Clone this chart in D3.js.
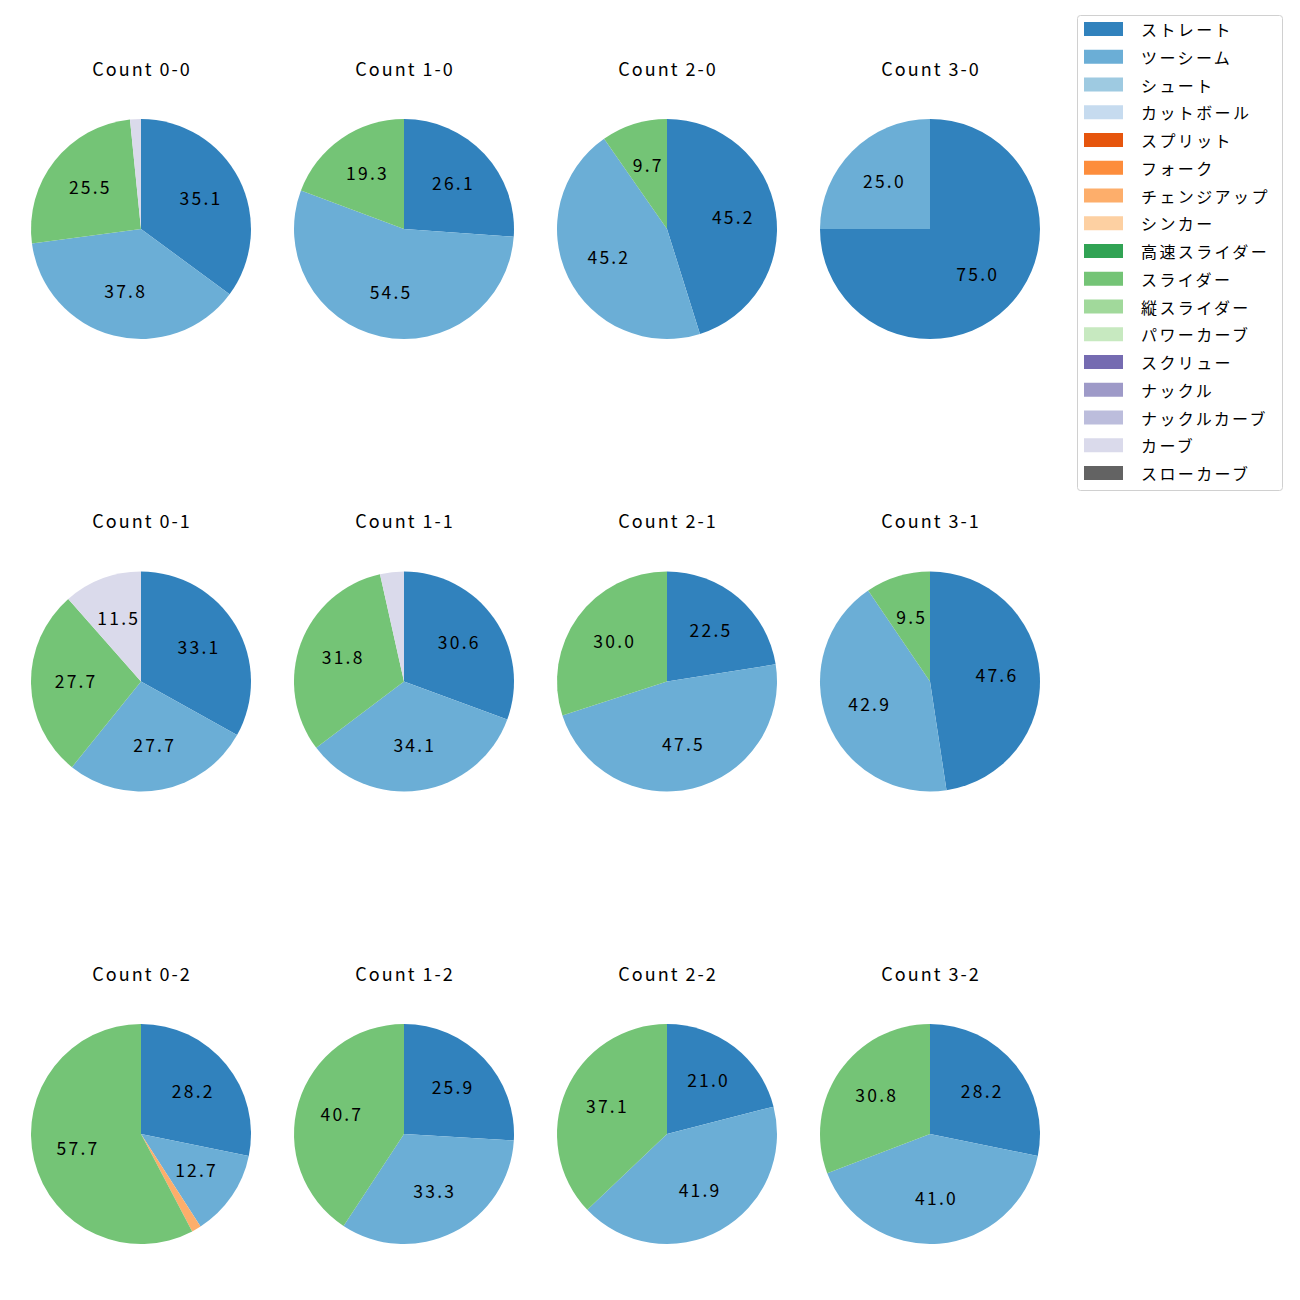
<!DOCTYPE html>
<html><head><meta charset="utf-8">
<script src="https://cdn.jsdelivr.net/npm/d3@7"></script>
<style>body{margin:0;background:#fff;} svg{display:block;font-family:"Noto Sans CJK JP","Noto Sans",sans-serif;}</style>
</head><body>
<svg id="c" width="1300" height="1300"></svg>
<script>
const counts = ["0-0","1-0","2-0","3-0","0-1","1-1","2-1","3-1","0-2","1-2","2-2","3-2"];
const pitchTypes = ["ストレート","ツーシーム","シュート","カットボール","スプリット","フォーク","チェンジアップ","シンカー","高速スライダー","スライダー","縦スライダー","パワーカーブ","スクリュー","ナックル","ナックルカーブ","カーブ","スローカーブ"];
const colors = ["#3182bd","#6baed6","#9ecae1","#c6dbef","#e6550d","#fd8d3c","#fdae6b","#fdd0a2","#31a354","#74c476","#a1d99b","#c7e9c0","#756bb1","#9e9ac8","#bcbddc","#dadaeb","#636363"];
// values per count (same order as counts)
const straight  = [35.1,26.1,45.2,75.0,33.1,30.6,22.5,47.6,28.2,25.9,21.0,28.2];
const twoSeam   = [37.8,54.5,45.2,25.0,27.7,34.1,47.5,42.9,12.7,33.3,41.9,41.0];
const changeup  = [0,0,0,0,0,0,0,0,1.4,0,0,0];
const slider    = [25.5,19.3,9.7,0,27.7,31.8,30.0,9.5,57.7,40.7,37.1,30.8];
const curve     = [1.6,0,0,0,11.5,3.5,0,0,0,0,0,0];
const series = {"ストレート":straight,"ツーシーム":twoSeam,"チェンジアップ":changeup,"スライダー":slider,"カーブ":curve};

const svg = d3.select("#c");
const color = d3.scaleOrdinal().domain(pitchTypes).range(colors);
const colX = d3.scalePoint().domain([0,1,2,3]).range([141,930]);
const rowY = d3.scalePoint().domain([0,1,2]).range([229,1134]);
const R = 110;
const arc = d3.arc().innerRadius(0).outerRadius(R);
const labelArc = d3.arc().innerRadius(R*0.6).outerRadius(R*0.6);
const pie = d3.pie().sort(null).value(d=>d.v).startAngle(0).endAngle(2*Math.PI);

counts.forEach((c,i)=>{
  const data = pitchTypes.map(p=>({p, v: series[p] ? series[p][i] : 0})).filter(d=>d.v>0);
  const g = svg.append("g").attr("transform",`translate(${colX(i%4)},${rowY(Math.floor(i/4))})`);
  const arcs = pie(data);
  g.selectAll("path").data(arcs).enter().append("path")
    .attr("d",arc).attr("fill",d=>color(d.data.p));
  g.selectAll("text.l").data(arcs.filter(d=>d.data.v>=5)).enter().append("text")
    .attr("class","l")
    .attr("transform",d=>`translate(${labelArc.centroid(d)})`)
    .attr("text-anchor","middle").attr("dominant-baseline","central")
    .attr("dx",1.1).attr("dy",-2)
    .attr("font-size","17.5px").attr("letter-spacing","2.2px").attr("fill","#000")
    .text(d=>d.data.v.toFixed(1));
  g.append("text").attr("x",1).attr("y",-161.5).attr("text-anchor","middle")
    .attr("dominant-baseline","central").attr("font-size","18px").attr("letter-spacing","2px").attr("fill","#000")
    .text("Count "+c);
});

// legend
const lg = svg.append("g");
lg.append("rect").attr("x",1077.5).attr("y",15.5).attr("width",205).attr("height",475)
  .attr("rx",3).attr("fill","#fff").attr("stroke","#d0d0d0").attr("stroke-width",1);
const ly = d3.scalePoint().domain(pitchTypes).range([29,473]);
pitchTypes.forEach(p=>{
  lg.append("rect").attr("x",1084).attr("y",ly(p)-7).attr("width",39).attr("height",14).attr("fill",color(p));
  lg.append("text").attr("x",1141).attr("y",ly(p)).attr("dominant-baseline","central")
    .attr("font-size","16px").attr("letter-spacing","2.4px").attr("fill","#000").text(p);
});
</script>
</body></html>
